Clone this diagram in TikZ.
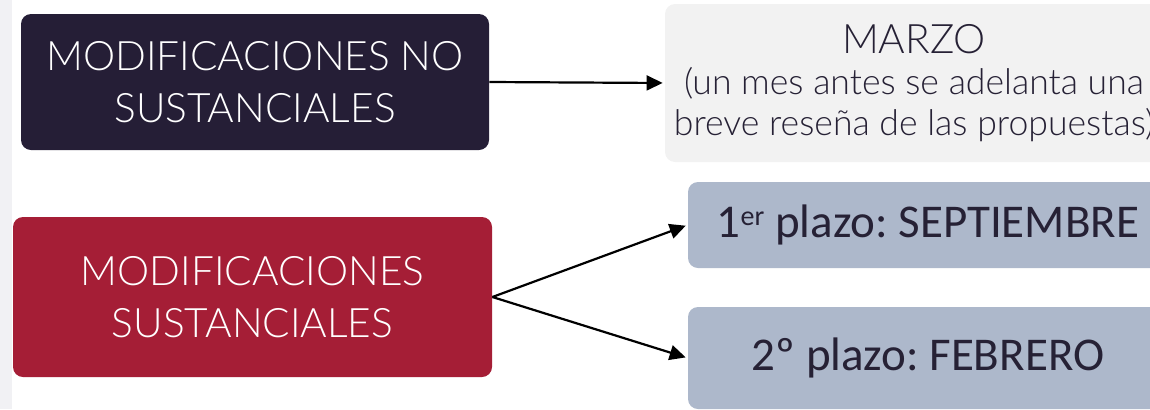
\documentclass[tikz,border=0pt]{standalone}
\usepackage{fontspec}
\setmainfont{Carlito}
\newfontfamily\lightfont{Lato Light}
\usepackage{xcolor}
\usepackage{tikz}
\usetikzlibrary{arrows.meta,positioning}
\definecolor{navy}{HTML}{251E36}
\definecolor{wine}{HTML}{A51E36}
\definecolor{paper}{HTML}{F2F2F2}
\definecolor{slate}{HTML}{ADB8CB}
\definecolor{ink}{HTML}{262135}
\definecolor{strip}{HTML}{F1F1F4}
\frenchspacing

\begin{document}
\begin{tikzpicture}[x=0.5pt,y=0.5pt,
    box/.style={rounded corners=5pt, align=center, inner sep=0pt},
    modbox/.style={box, text=white, font=\lightfont\fontsize{20.3}{26}\selectfont},
    datebox/.style={box, fill=slate, text=ink, minimum width=240pt, font=\fontsize{23.5}{26}\selectfont},
    arr/.style={-{Triangle[length=8pt,width=7.5pt]}, line width=1.1pt, shorten >=1pt}]
    \clip (0,0) rectangle (1150,409);
    \fill[strip] (0,0) rectangle (12,409);
    % left column
    \node[modbox, fill=navy, minimum width=234pt, minimum height=68pt] (nosust) at (255,327)
      {MODIFICACIONES NO\\SUSTANCIALES};
    \node[modbox, fill=wine, minimum width=239.5pt, minimum height=80pt] (sust) at (252.5,112)
      {MODIFICACIONES\\SUSTANCIALES};
    % right column
    \node[box, fill=paper, text=ink, minimum width=249pt, minimum height=79pt,
      font=\lightfont\fontsize{17.8}{20.5}\selectfont] (marzo) at (914,326)
      {{\fontsize{20.3}{20.5}\selectfont MARZO}\\(un mes antes se adelanta una\\breve reseña de las propuestas)};
    \node[datebox, minimum height=43pt] (sept) at (928,184)
      {1\raisebox{0.55ex}{\fontsize{14}{14}\selectfont er} plazo: SEPTIEMBRE};
    \node[datebox, minimum height=51pt] (feb) at (928,51) {2º plazo: FEBRERO};
    \draw[arr] (nosust.east) -- (marzo.west);
    \draw[arr] (sust.east) -- (sept.west);
    \draw[arr] (sust.east) -- (feb.west);
\end{tikzpicture}
\end{document}
